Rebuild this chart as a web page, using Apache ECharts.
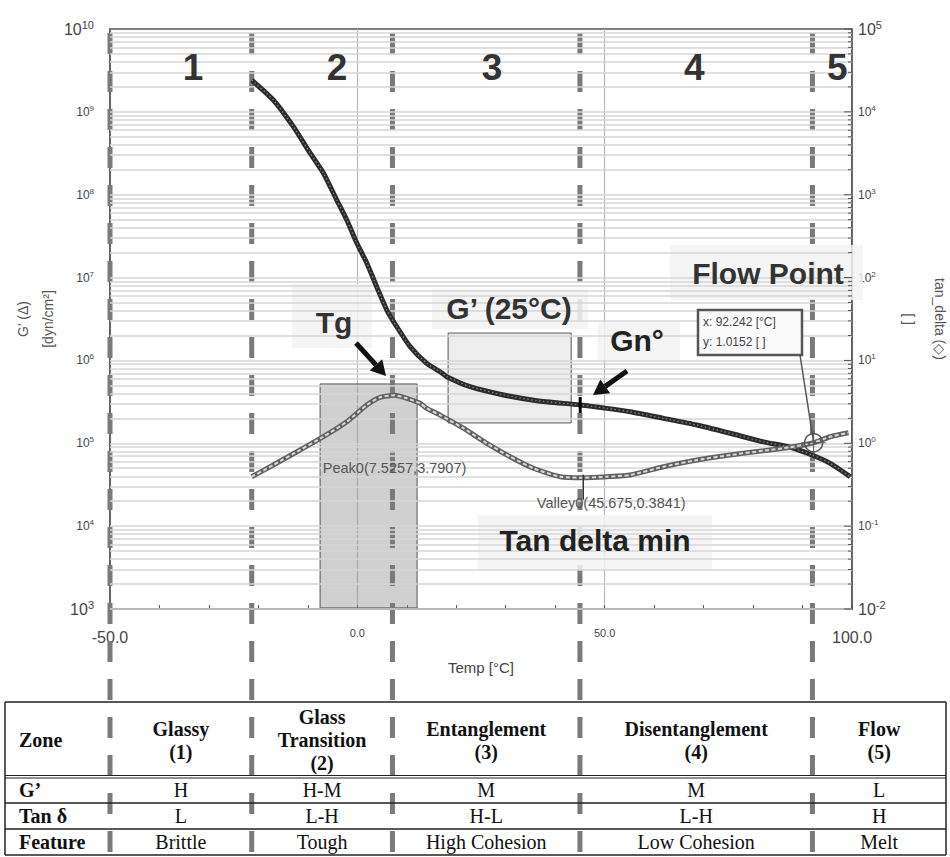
<!DOCTYPE html>
<html><head><meta charset="utf-8">
<script src="https://cdn.jsdelivr.net/npm/echarts@6/dist/echarts.min.js"></script>
<style>html,body{margin:0;padding:0;background:#fff}#c{width:950px;height:857px}</style>
</head><body><div id="c"></div>
<script>
// ---------------- DATA ----------------
const tempG = [-21.35, -16.98, -12.93, -9.56, -6.87, -4.16, -2.13, -0.11, 1.91, 3.93, 5.96, 7.98, 10.67, 14.04, 16.73, 18.09, 22.80, 29.54, 36.29, 45.05, 50.44, 55.16, 61.89, 68.65, 75.38, 82.11, 87.51, 91.9, 95.6, 99.65];
const gPrime = [2.42e9, 1.39e9, 6.62e8, 3.19e8, 1.83e8, 8.63e7, 4.95e7, 2.61e7, 1.50e7, 7.7e6, 4.06e6, 2.55e6, 1.47e6, 9.2e5, 7.3e5, 6.37e5, 4.82e5, 3.83e5, 3.27e5, 2.90e5, 2.64e5, 2.40e5, 2.0e5, 1.66e5, 1.32e5, 1.04e5, 8.95e4, 7.22e4, 5.73e4, 3.95e4];
const tempTan = [-21.35, -16.98, -11.58, -6.87, -2.13, 1.91, 4.60, 7.5257, 10.0, 12.69, 14.04, 16.73, 21.45, 26.18, 30.89, 35.60, 41.0, 45.675, 50.44, 55.16, 61.89, 68.65, 75.38, 82.11, 87.51, 92.242, 95.6, 99.3];
const tanDelta = [0.395, 0.547, 0.83, 1.20, 1.82, 2.90, 3.59, 3.7907, 3.49, 3.04, 2.64, 2.19, 1.52, 1.0, 0.689, 0.499, 0.395, 0.3841, 0.395, 0.414, 0.521, 0.628, 0.722, 0.813, 0.895, 1.0152, 1.20, 1.34];

const zoneBounds = [-50, -21.35, 7.1, 45.0, 92.0];
const zoneNumbers = ['1', '2', '3', '4', '5'];
const zoneNumberTemps = [-33.2, -4.1, 27.25, 68.1, 97.0];
const peak = [7.5257, 3.7907];
const valley = [45.675, 0.3841];
const flowPoint = [92.242, 1.0152];
const gnPoint = [45.05, 2.9e5];
const tgBoxTemp = [-7.53, 12.08];
const tgBoxG = [5.2e5, 1.03e3];
const g25BoxTemp = [18.35, 43.23];
const g25BoxG = [2.14e6, 1.76e5];
const xTickValues = [-50, 0, 50, 100];

const rowHeads = ['Zone', 'G\u2019', 'Tan \u03b4', 'Feature'];
const zoneNames = ['Glassy\n(1)', 'Glass\nTransition\n(2)', 'Entanglement\n(3)', 'Disentanglement\n(4)', 'Flow\n(5)'];
const gRow = ['H', 'H-M', 'M', 'M', 'L'];
const tanRow = ['L', 'L-H', 'H-L', 'L-H', 'H'];
const featureRow = ['Brittle', 'Tough', 'High Cohesion', 'Low Cohesion', 'Melt'];

// ---------------- CHART ----------------
const SANS = '"Liberation Sans", Arial, Helvetica, sans-serif';
const SERIF = '"Liberation Serif", "Times New Roman", serif';

const gridVals = [];
for (let k = 3; k < 10; k++) for (let m = 1; m <= 9; m++) gridVals.push(m * Math.pow(10, k));
const rightTicks = [];
for (let k = -2; k < 5; k++) for (let m = 1; m <= 9; m++) rightTicks.push([100, m * Math.pow(10, k), m === 1 ? 8 : 4]);
rightTicks.push([100, 1e5, 8]);

function powLabel(v, big) {
  const e = Math.round(Math.log10(v));
  return big.indexOf(e) >= 0 ? '{b|10}{bs|' + e + '}' : '{s|10}{ss|' + e + '}';
}
const powRich = {
  b: {fontSize: 16, color: '#444', fontFamily: SANS},
  bs: {fontSize: 11, color: '#444', fontFamily: SANS, padding: [0, 0, 9, 0]},
  s: {fontSize: 12, color: '#444', fontFamily: SANS},
  ss: {fontSize: 8, color: '#444', fontFamily: SANS, padding: [0, 0, 7, 0]}
};

const chart = echarts.init(document.getElementById('c'), null, {renderer: 'svg', width: 950, height: 857});

const option = {
  animation: false,
  backgroundColor: '#fff',
  textStyle: {fontFamily: SANS},
  grid: {left: 110, right: 98, top: 29, bottom: 248, containLabel: false, outerBoundsMode: 'none',
    show: true, borderColor: '#555', borderWidth: 1.5},
  xAxis: {
    type: 'value', min: -50, max: 100, interval: 50,
    axisLine: {onZero: false, lineStyle: {color: '#555', width: 1.5}},
    axisTick: {show: true, inside: true, length: 4, lineStyle: {color: '#555'}},
    minorTick: {show: true, splitNumber: 5, length: 4, lineStyle: {color: '#555'}},
    splitLine: {show: true, lineStyle: {color: '#b8b8b8', width: 1.2}},
    axisLabel: {margin: 18, formatter: v => (v === -50 || v === 100) ? '{b|' + v.toFixed(1) + '}' : '{s|' + v.toFixed(1) + '}',
      rich: {b: {fontSize: 16, color: '#444', fontFamily: SANS, lineHeight: 20}, s: {fontSize: 11, color: '#444', fontFamily: SANS, lineHeight: 11}}},
    name: 'Temp [\u00b0C]', nameLocation: 'middle', nameGap: 51, nameMoveOverlap: false,
    nameTextStyle: {fontSize: 15, color: '#444', fontFamily: SANS}
  },
  yAxis: [{
    type: 'log', logBase: 10, min: 1e3, max: 1e10, position: 'left',
    axisLine: {show: true, onZero: false, lineStyle: {color: '#555', width: 1.5}},
    axisTick: {show: false}, splitLine: {show: false},
    axisLabel: {margin: 16, formatter: v => powLabel(v, [3, 10]), rich: powRich},
    name: 'G\u2019 (\u0394)\n[dyn/cm\u00b2]', nameLocation: 'middle', nameGap: 50, nameRotate: 90, nameMoveOverlap: false,
    nameTextStyle: {fontSize: 14, color: '#555', fontFamily: SANS, lineHeight: 25}
  }, {
    type: 'log', logBase: 10, min: 1e-2, max: 1e5, position: 'right',
    axisLine: {show: true, onZero: false, lineStyle: {color: '#555', width: 1.5}},
    axisTick: {show: false}, splitLine: {show: false},
    axisLabel: {margin: 6, formatter: v => powLabel(v, [-2, 5]), rich: powRich},
    name: 'tan_delta (\u25c7)\n[ ]', nameLocation: 'middle', nameGap: 41, nameRotate: -90, nameMoveOverlap: false,
    nameTextStyle: {fontSize: 14, color: '#555', fontFamily: SANS, lineHeight: 31}
  }],
  series: [{
    name: 'gridlines', type: 'line', xAxisIndex: 0, yAxisIndex: 0, data: [[-50, 1e3]],
    showSymbol: false, lineStyle: {opacity: 0}, silent: true, z: 1,
    markLine: {silent: true, symbol: ['none', 'none'], label: {show: false},
      lineStyle: {color: '#d6d6d6', width: 1.5, type: 'solid'},
      data: gridVals.map(v => ({yAxis: v}))},
    markArea: {silent: true, label: {show: false}, data: [
      [{xAxis: tgBoxTemp[0], yAxis: tgBoxG[0], itemStyle: {color: 'rgba(150,150,150,0.45)', borderColor: '#555', borderWidth: 1}},
       {xAxis: tgBoxTemp[1], yAxis: tgBoxG[1]}],
      [{xAxis: g25BoxTemp[0], yAxis: g25BoxG[0], itemStyle: {color: 'rgba(215,215,215,0.45)', borderColor: '#555', borderWidth: 1}},
       {xAxis: g25BoxTemp[1], yAxis: g25BoxG[1]}]
    ]}
  }, {
    name: 'G\u2019', type: 'line', xAxisIndex: 0, yAxisIndex: 0, z: 5, smooth: 0.2, showSymbol: false,
    data: tempG.map((t, i) => [t, gPrime[i]]), lineStyle: {color: '#2b2b2b', width: 5}
  }, {
    name: 'G\u2019 texture', type: 'line', xAxisIndex: 0, yAxisIndex: 0, z: 6, smooth: 0.2, showSymbol: false, silent: true,
    data: tempG.map((t, i) => [t, gPrime[i]]), lineStyle: {color: '#8a8a8a', width: 1.2, type: [1.5, 2.5]}
  }, {
    name: 'tan_delta', type: 'line', xAxisIndex: 0, yAxisIndex: 1, z: 5, smooth: 0.2, showSymbol: false,
    data: tempTan.map((t, i) => [t, tanDelta[i]]), lineStyle: {color: '#606060', width: 5}
  }, {
    name: 'tan_delta texture', type: 'line', xAxisIndex: 0, yAxisIndex: 1, z: 6, smooth: 0.2, showSymbol: false, silent: true,
    data: tempTan.map((t, i) => [t, tanDelta[i]]), lineStyle: {color: '#d8d8d8', width: 2, type: [4, 2.5]}
  }, {
    name: 'right ticks', type: 'custom', xAxisIndex: 0, yAxisIndex: 1, z: 7, silent: true,
    data: rightTicks, encode: {x: 0, y: 1},
    renderItem: (params, api) => {
      const p = api.coord([api.value(0), api.value(1)]);
      const len = api.value(2);
      return {type: 'line', shape: {x1: p[0] - len, y1: p[1], x2: p[0], y2: p[1]}, style: {stroke: '#555', lineWidth: 1}};
    }
  }]
};
chart.setOption(option);

// ---------------- ANNOTATIONS & TABLE ----------------
const px = (t, v, yi) => chart.convertToPixel({xAxisIndex: 0, yAxisIndex: yi || 0}, [t, v]);
const g = [];
function txt(x, y, text, o) {
  o = o || {};
  g.push({type: 'text', x: x, y: y, z: o.z || 20, silent: true, style: {
    text: text, fill: o.color || '#333', fontSize: o.size || 14, fontWeight: o.weight || 'normal',
    fontFamily: o.family || SANS, align: o.align || 'center', verticalAlign: 'middle', lineHeight: o.lh
  }});
}
function rect(x1, y1, x2, y2, fill, stroke, lw, z) {
  g.push({type: 'rect', z: z || 4, silent: true, shape: {x: x1, y: y1, width: x2 - x1, height: y2 - y1},
    style: {fill: fill || 'none', stroke: stroke || 'none', lineWidth: lw || 0}});
}
function hline(x1, x2, y, w, c, z) {
  g.push({type: 'line', z: z || 10, silent: true, shape: {x1: x1, y1: y, x2: x2, y2: y}, style: {stroke: c || '#222', lineWidth: w || 1.5}});
}
function arrow(x1, y1, x2, y2) {
  const dx = x2 - x1, dy = y2 - y1, L = Math.hypot(dx, dy), ux = dx / L, uy = dy / L;
  const hl = 15, hw = 8.5, bx = x2 - ux * hl, by = y2 - uy * hl;
  g.push({type: 'line', z: 21, silent: true, shape: {x1: x1, y1: y1, x2: bx, y2: by}, style: {stroke: '#111', lineWidth: 5}});
  g.push({type: 'polygon', z: 21, silent: true, shape: {points: [[x2, y2], [bx - uy * hw, by + ux * hw], [bx + uy * hw, by - ux * hw]]}, style: {fill: '#111'}});
}

const gridTop = 29, tableTop = 702, tableBottom = 855;
// zone dashed lines
const sepX = zoneBounds.map(t => px(t, 1e5)[0]);
sepX.forEach(x => g.push({type: 'line', z: 3, silent: true, shape: {x1: x, y1: gridTop + 4, x2: x, y2: tableBottom},
  style: {stroke: '#7a7a7a', lineWidth: 5, lineDash: [21, 17]}}));

// zone numbers
zoneNumberTemps.forEach((t, i) => txt(px(t, 1e5)[0], 67, zoneNumbers[i], {size: 37, weight: 'bold', color: '#333'}));

// text background patches
rect(292, 284, 372, 348, 'rgba(243,243,243,0.85)', null, 0, 4);
rect(432, 289, 588, 329, 'rgba(243,243,243,0.85)', null, 0, 4);
rect(598, 322, 680, 360, 'rgba(243,243,243,0.85)', null, 0, 4);
rect(670, 245, 863, 300, 'rgba(243,243,243,0.85)', null, 0, 4);
rect(478, 515, 712, 570, 'rgba(243,243,243,0.85)', null, 0, 4);

txt(334, 322, 'Tg', {size: 30, weight: 'bold', color: '#333'});
txt(509, 308, 'G\u2019 (25\u00b0C)', {size: 30, weight: 'bold', color: '#333'});
txt(637, 340, 'Gn\u00b0', {size: 30, weight: 'bold', color: '#222'});
txt(768, 273, 'Flow Point', {size: 30, weight: 'bold', color: '#333'});
txt(595, 540, 'Tan delta min', {size: 30, weight: 'bold', color: '#222'});

const pk = px(peak[0], peak[1], 1);
const vl = px(valley[0], valley[1], 1);
txt(pk[0], 468, 'Peak0(' + peak[0] + ',' + peak[1] + ')', {size: 14.5, color: '#555'});
txt(vl[0] + 28, 503, 'Valley0(' + valley[0] + ',' + valley[1] + ')', {size: 14.5, color: '#555'});
g.push({type: 'line', z: 8, silent: true, shape: {x1: vl[0], y1: vl[1] - 3, x2: vl[0], y2: vl[1] + 22}, style: {stroke: '#333', lineWidth: 1.5}});

// arrows
arrow(356, 343, 386, 376);
arrow(627, 371, 593, 395);

// Gn marker
const gn = px(gnPoint[0], gnPoint[1], 0);
rect(gn[0] - 1.5, gn[1] - 8, gn[0] + 1.5, gn[1] + 8, '#000', null, 0, 9);

// flow point marker + tooltip
const fp = px(flowPoint[0], flowPoint[1], 1);
g.push({type: 'line', z: 9, silent: true, shape: {x1: 800, y1: 355, x2: fp[0], y2: fp[1]}, style: {stroke: '#555', lineWidth: 1.5}});
g.push({type: 'circle', z: 9, silent: true, shape: {cx: fp[0], cy: fp[1], r: 9}, style: {fill: 'none', stroke: '#555', lineWidth: 1.5}});
g.push({type: 'line', z: 9, silent: true, shape: {x1: fp[0] - 12, y1: fp[1], x2: fp[0] + 12, y2: fp[1]}, style: {stroke: '#555', lineWidth: 1}});
g.push({type: 'line', z: 9, silent: true, shape: {x1: fp[0], y1: fp[1] - 12, x2: fp[0], y2: fp[1] + 12}, style: {stroke: '#555', lineWidth: 1}});
rect(698, 310, 802, 355, '#fafafa', '#555', 2.5, 9);
txt(703, 322, 'x: ' + flowPoint[0] + ' [\u00b0C]', {size: 12, color: '#444', align: 'left'});
txt(703, 342, 'y: ' + flowPoint[1] + ' [ ]', {size: 12, color: '#444', align: 'left'});

// table
const tL = 5, tR = 946;
const rowLines = [702, 777, 803, 829, 855];
hline(tL, tR, rowLines[0], 1.5);
hline(tL, tR, rowLines[1] - 1.5, 1);
hline(tL, tR, rowLines[1] + 1, 1);
hline(tL, tR, rowLines[2], 1.5);
hline(tL, tR, rowLines[3], 1.5);
hline(tL, tR, rowLines[4], 1.5);
g.push({type: 'line', z: 10, silent: true, shape: {x1: tL, y1: tableTop, x2: tL, y2: tableBottom}, style: {stroke: '#222', lineWidth: 1.5}});
g.push({type: 'line', z: 10, silent: true, shape: {x1: tR, y1: tableTop, x2: tR, y2: tableBottom}, style: {stroke: '#222', lineWidth: 1.5}});

const colEdges = sepX.slice(1).concat([tR]);
const colCenters = [];
for (let i = 0; i < 5; i++) colCenters.push((sepX[i] + colEdges[i]) / 2);
const rowCenters = [740, 790, 816, 842];
rowHeads.forEach((h, r) => txt(19, rowCenters[r], h, {size: 20, weight: 'bold', family: SERIF, color: '#111', align: 'left'}));
zoneNames.forEach((n, i) => txt(colCenters[i], rowCenters[0], n, {size: 20, weight: 'bold', family: SERIF, color: '#111', lh: 23}));
gRow.forEach((n, i) => txt(colCenters[i], rowCenters[1], n, {size: 20, family: SERIF, color: '#111'}));
tanRow.forEach((n, i) => txt(colCenters[i], rowCenters[2], n, {size: 20, family: SERIF, color: '#111'}));
featureRow.forEach((n, i) => txt(colCenters[i], rowCenters[3], n, {size: 20, family: SERIF, color: '#111'}));

chart.setOption({graphic: {elements: g}});
</script></body></html>
